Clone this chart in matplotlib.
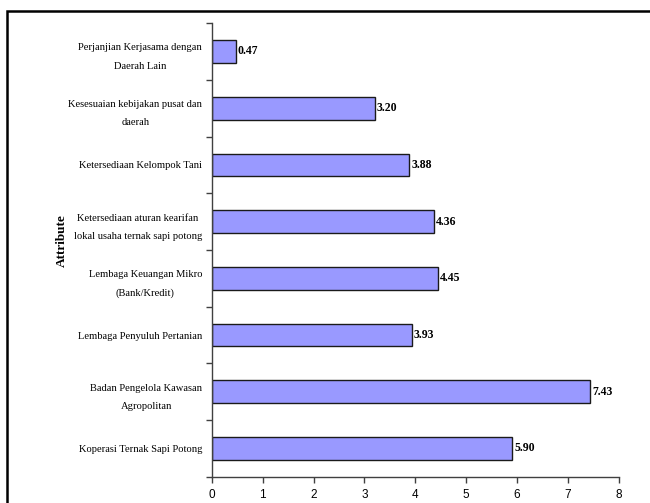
import numpy as np
import matplotlib
matplotlib.use('Agg')
import matplotlib.pyplot as plt
from matplotlib.patches import Rectangle

# attributes listed top to bottom
attributes = ['Perjanjian Kerjasama dengan\nDaerah Lain',
              'Kesesuaian kebijakan pusat dan\ndaerah',
              'Ketersediaan Kelompok Tani',
              'Ketersediaan aturan kearifan\nlokal usaha ternak sapi potong',
              'Lembaga Keuangan Mikro\n(Bank/Kredit)',
              'Lembaga Penyuluh Pertanian',
              'Badan Pengelola Kawasan\nAgropolitan',
              'Koperasi Ternak Sapi Potong']
scores = [0.47, 3.20, 3.88, 4.36, 4.45, 3.93, 7.43, 5.90]
xticks = [0, 1, 2, 3, 4, 5, 6, 7, 8]

serif = ['Liberation Serif', 'DejaVu Serif']
sans = ['Liberation Sans', 'DejaVu Sans']

fig = plt.figure(figsize=(6.5, 5.03), dpi=100)
ax = fig.add_axes([0.326, 0.052, 0.626, 0.902])

ypos = np.arange(len(attributes))
ax.barh(ypos, scores, height=0.4, color='#9999ff', edgecolor='#1a1a1a', linewidth=1.0)
for y, v in zip(ypos, scores):
    ax.annotate('%.2f' % v, xy=(v, y), xytext=(1.5, 0), textcoords='offset points',
                va='center', ha='left', fontsize=8.5, fontweight='bold', family=serif)

ax.set_ylim(len(attributes) - 0.5, -0.5)
ax.set_xlim(0, 8)
ax.set_xticks(xticks)
ax.set_xticklabels([str(t) for t in xticks], family=sans, fontsize=8.5)
ax.set_yticks(ypos)
ax.set_yticklabels(attributes, family=serif, fontsize=7.6, multialignment='center', linespacing=2.3)
ax.set_yticks(np.arange(len(attributes) + 1) - 0.5, minor=True)
ax.tick_params(axis='y', which='major', length=0, pad=7)
ax.tick_params(axis='y', which='minor', length=4, width=1, color='#404040', direction='out')
ax.tick_params(axis='x', length=4, width=1, color='#404040', pad=5)

for s in ['top', 'right']:
    ax.spines[s].set_visible(False)
for s in ['left', 'bottom']:
    ax.spines[s].set_color('#404040')
    ax.spines[s].set_linewidth(1.0)

ax.set_ylabel('Attribute', family=serif, fontsize=9.5, fontweight='bold')
ax.yaxis.set_label_coords(-0.355, 0.52)

# frame around the whole figure, open past the right and bottom edges
fig.patches.append(Rectangle((6.5 / 650, -0.05), 1.1, 1 - 10.5 / 503 + 0.05,
                             transform=fig.transFigure, fill=False,
                             edgecolor='black', linewidth=1.8))

fig.savefig('out.png', dpi=100)
